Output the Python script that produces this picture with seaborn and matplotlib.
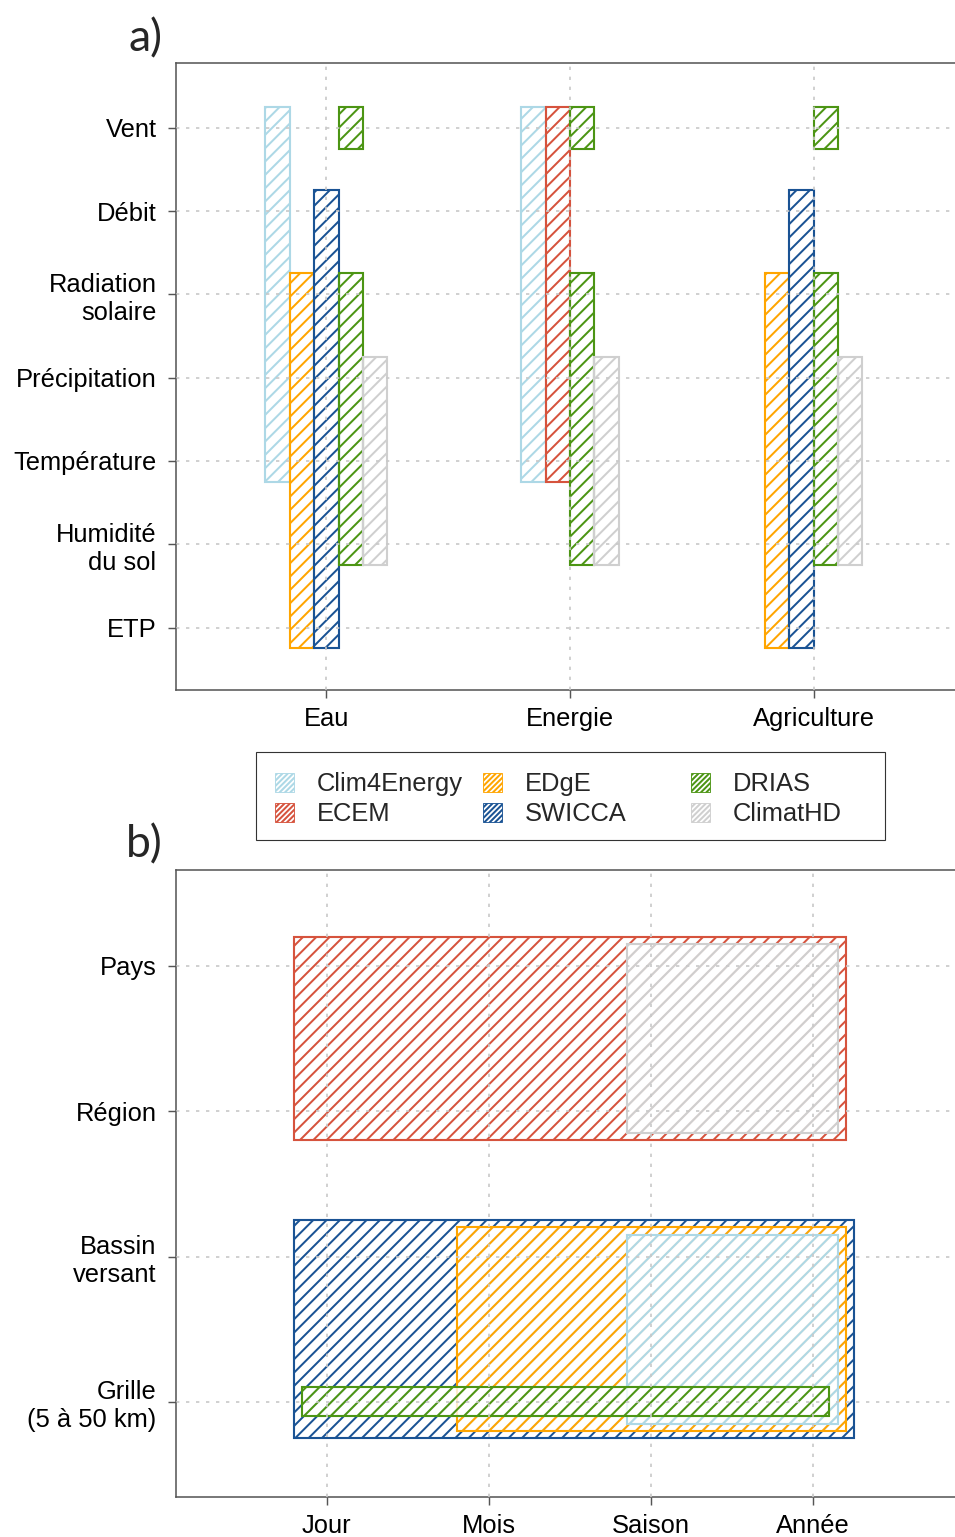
import matplotlib
matplotlib.use("Agg")
import matplotlib.pyplot as plt
import seaborn as sns
import numpy as np
from matplotlib.patches import Patch, Rectangle

# ---------------- data ----------------
sectors = ["Eau", "Energie", "Agriculture"]
variables = ["ETP", "Humidité\ndu sol", "Température", "Précipitation",
             "Radiation\nsolaire", "Débit", "Vent"]          # bottom -> top
series = ["Clim4Energy", "ECEM", "EDgE", "SWICCA", "DRIAS", "ClimatHD"]

# panel a coverage: rows = sectors, columns = variables (bottom -> top)
clim4energy_a = [[0, 0, 1, 1, 1, 1, 1], [0, 0, 1, 1, 1, 1, 1], [0, 0, 0, 0, 0, 0, 0]]
ecem_a        = [[0, 0, 0, 0, 0, 0, 0], [0, 0, 1, 1, 1, 1, 1], [0, 0, 0, 0, 0, 0, 0]]
edge_a        = [[1, 1, 1, 1, 1, 0, 0], [0, 0, 0, 0, 0, 0, 0], [1, 1, 1, 1, 1, 0, 0]]
swicca_a      = [[1, 1, 1, 1, 1, 1, 0], [0, 0, 0, 0, 0, 0, 0], [1, 1, 1, 1, 1, 1, 0]]
drias_a       = [[0, 1, 1, 1, 1, 0, 1], [0, 1, 1, 1, 1, 0, 1], [0, 1, 1, 1, 1, 0, 1]]
climathd_a    = [[0, 1, 1, 1, 0, 0, 0], [0, 1, 1, 1, 0, 0, 0], [0, 1, 1, 1, 0, 0, 0]]

# panel b: temporal (x) and spatial (y) resolution ranges
temporal = ["Jour", "Mois", "Saison", "Année"]
spatial = ["Grille\n(5 à 50 km)", "Bassin\nversant", "Région", "Pays"]
b_series     = ["ECEM", "ClimatHD", "SWICCA", "EDgE", "Clim4Energy", "DRIAS"]
b_time_from  = ["Jour", "Saison", "Jour", "Mois", "Saison", "Jour"]
b_time_to    = ["Année", "Année", "Année", "Année", "Année", "Année"]
b_space_from = ["Région", "Région", "Grille\n(5 à 50 km)", "Grille\n(5 à 50 km)",
                "Grille\n(5 à 50 km)", "Grille\n(5 à 50 km)"]
b_space_to   = ["Pays", "Pays", "Bassin\nversant", "Bassin\nversant",
                "Bassin\nversant", "Grille\n(5 à 50 km)"]

# ---------------- styles ----------------
colors = {"Clim4Energy": "#add8e6", "ECEM": "#d6533d", "EDgE": "#ffa500",
          "SWICCA": "#1a5394", "DRIAS": "#4c9514", "ClimatHD": "#cfcfcf"}
pad_left  = {"ECEM": 0.20, "ClimatHD": 0.15, "SWICCA": 0.20, "EDgE": 0.20, "Clim4Energy": 0.15, "DRIAS": 0.15}
pad_right = {"ECEM": 0.20, "ClimatHD": 0.15, "SWICCA": 0.25, "EDgE": 0.20, "Clim4Energy": 0.15, "DRIAS": 0.10}
pad_y     = {"ECEM": 0.20, "ClimatHD": 0.15, "SWICCA": 0.25, "EDgE": 0.20, "Clim4Energy": 0.15, "DRIAS": 0.10}

sns.set_theme(style="white")
plt.rcParams["font.family"] = ["Liberation Sans", "DejaVu Sans"]
plt.rcParams["hatch.linewidth"] = 1.8

DPI = 80
W, H = 955, 1537
fig = plt.figure(figsize=(W / DPI, H / DPI), dpi=DPI)
FS = 23
spine_c = "#555555"
grid_c = "#c8c8c8"


def style_axes(ax):
    for s in ax.spines.values():
        s.set_color(spine_c)
        s.set_linewidth(1.4)
    ax.tick_params(axis="both", which="both", direction="out", length=7.5,
                   width=1.3, color=spine_c, labelsize=FS, labelcolor="black",
                   left=True, bottom=True)
    ax.tick_params(axis="y", pad=10)
    ax.tick_params(axis="x", pad=8)
    ax.grid(True, color=grid_c, linestyle=(0, (2, 4)), linewidth=1.5)
    ax.set_axisbelow(False)
    ax.set_xlabel("")
    ax.set_ylabel("")


# ---------------- panel a ----------------
axa = fig.add_axes([176 / W, 1 - 690 / H, (964 - 176) / W, (690 - 63) / H])
cov = {"Clim4Energy": clim4energy_a, "ECEM": ecem_a, "EDgE": edge_a,
       "SWICCA": swicca_a, "DRIAS": drias_a, "ClimatHD": climathd_a}
bar_w = 0.1
for si, sec in enumerate(sectors):
    present = [s for s in series if any(cov[s][si])]
    n = len(present)
    for k, s in enumerate(present):
        xpos = si + 1 + (k - (n - 1) / 2) * bar_w
        row = cov[s][si]
        # contiguous runs of covered variables
        j = 0
        while j < len(row):
            if row[j]:
                start = j
                while j + 1 < len(row) and row[j + 1]:
                    j += 1
                lo, hi = start + 1, j + 1
                axa.bar(xpos, hi - lo + 0.5, width=bar_w, bottom=lo - 0.25,
                        facecolor="none", edgecolor=colors[s], linewidth=1.9,
                        hatch="//", zorder=1)
            j += 1
axa.set_xlim(0.383, 3.617)
axa.set_ylim(0.25, 7.777)
axa.set_xticks(range(1, len(sectors) + 1))
axa.set_xticklabels(sectors)
axa.set_yticks(range(1, len(variables) + 1))
axa.set_yticklabels(variables)
style_axes(axa)

# ---------------- panel b ----------------
axb = fig.add_axes([176 / W, 1 - 1497 / H, (964 - 176) / W, (1497 - 870) / H])
for s, tf, tt, sf, st in zip(b_series, b_time_from, b_time_to, b_space_from, b_space_to):
    x0 = temporal.index(tf) + 1 - pad_left[s]
    x1 = temporal.index(tt) + 1 + pad_right[s]
    y0 = spatial.index(sf) + 1 - pad_y[s]
    y1 = spatial.index(st) + 1 + pad_y[s]
    axb.bar((x0 + x1) / 2, y1 - y0, width=x1 - x0, bottom=y0,
            facecolor=(1, 1, 1, 0.8), edgecolor=colors[s], linewidth=1.9,
            hatch="//", zorder=1)
axb.set_xlim(0.07, 4.93)
axb.set_ylim(0.345, 4.66)
axb.set_xticks(range(1, len(temporal) + 1))
axb.set_xticklabels(temporal)
axb.set_yticks(range(1, len(spatial) + 1))
axb.set_yticklabels(spatial)
style_axes(axb)

# ---------------- legend ----------------
handles = [Patch(facecolor="none", edgecolor=colors[s], hatch="/////", linewidth=0.8)
           for s in series]
col_x = [275, 483, 691]
for c in range(3):
    idx = [2 * c, 2 * c + 1]
    fig.legend([handles[i] for i in idx], [series[i] for i in idx],
               loc="upper left", bbox_to_anchor=(col_x[c] / W, 1 - 772 / H),
               bbox_transform=fig.transFigure, frameon=False, fontsize=FS,
               handlelength=0.76, handleheight=0.76, handletextpad=0.88,
               labelspacing=0.25, borderpad=0, borderaxespad=0)
fig.add_artist(Rectangle((256 / W, 1 - 840 / H), (885 - 256) / W, (840 - 752) / H,
                         transform=fig.transFigure, fill=False,
                         edgecolor="#333333", linewidth=1.0))

# panel labels
fig.text(146 / W, 1 - 51 / H, "a)", ha="center", va="baseline", fontsize=40,
         family=["Lato", "DejaVu Sans"])
fig.text(144 / W, 1 - 857 / H, "b)", ha="center", va="baseline", fontsize=40,
         family=["Lato", "DejaVu Sans"])

fig.savefig("out.png", dpi=DPI)
